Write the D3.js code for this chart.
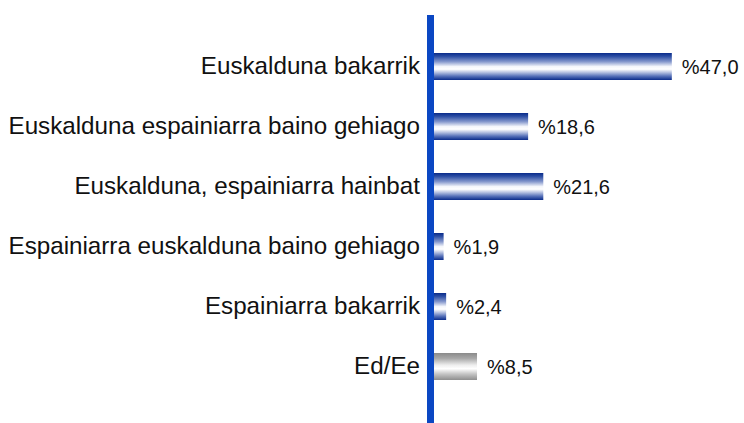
<!DOCTYPE html>
<html>
<head>
<meta charset="utf-8">
<script src="https://cdn.jsdelivr.net/npm/d3@7"></script>
<style>
  html, body { margin: 0; padding: 0; background: #fff; }
  svg { display: block; }
  text { font-family: "Liberation Sans", Arial, sans-serif; fill: #111; }
</style>
</head>
<body>
<svg id="chart" width="744" height="423"></svg>
<script>
// Identity survey answers (percent)
const categories = [
  "Euskalduna bakarrik",
  "Euskalduna espainiarra baino gehiago",
  "Euskalduna, espainiarra hainbat",
  "Espainiarra euskalduna baino gehiago",
  "Espainiarra bakarrik",
  "Ed/Ee"
];
const values = [47.0, 18.6, 21.6, 1.9, 2.4, 8.5];
const valueLabels = ["%47,0", "%18,6", "%21,6", "%1,9", "%2,4", "%8,5"];
const greyCategories = ["Ed/Ee"];

const svg = d3.select("#chart");
const W = 744, H = 423;

const x0 = 434;
const x = d3.scaleLinear().domain([0, 50]).range([x0, x0 + 253]);
const y = d3.scaleBand()
  .domain(categories)
  .range([36.5, 396.5])
  .paddingInner(0.55)
  .paddingOuter(0.275);

// Cylinder-like gradients for the bars
const defs = svg.append("defs");
const blue = defs.append("linearGradient")
  .attr("id", "gBlue").attr("x1", 0).attr("y1", 0).attr("x2", 0).attr("y2", 1);
[
  [0, "#0a2b8a"], [0.12, "#2a4ca3"], [0.32, "#8497cc"], [0.5, "#f4f6fb"],
  [0.6, "#ffffff"], [0.72, "#b4c0e0"], [0.86, "#5570b8"], [1, "#0a2b8a"]
].forEach(([o, c]) => blue.append("stop").attr("offset", o).attr("stop-color", c));

const grey = defs.append("linearGradient")
  .attr("id", "gGrey").attr("x1", 0).attr("y1", 0).attr("x2", 0).attr("y2", 1);
[
  [0, "#8a8a8a"], [0.2, "#a8a8a8"], [0.45, "#eeeeee"], [0.58, "#ffffff"],
  [0.78, "#c4c4c4"], [1, "#8e8e8e"]
].forEach(([o, c]) => grey.append("stop").attr("offset", o).attr("stop-color", c));

const rows = categories.map((c, i) => ({ cat: c, v: values[i], label: valueLabels[i] }));

// Bars
svg.append("g").selectAll("rect")
  .data(rows)
  .join("rect")
  .attr("x", x(0))
  .attr("y", d => y(d.cat))
  .attr("width", d => x(d.v) - x(0))
  .attr("height", y.bandwidth())
  .attr("fill", d => greyCategories.includes(d.cat) ? "url(#gGrey)" : "url(#gBlue)");

// Value labels
svg.append("g").selectAll("text")
  .data(rows)
  .join("text")
  .attr("x", d => x(d.v) + 10)
  .attr("y", d => y(d.cat) + y.bandwidth() / 2)
  .attr("dy", "0.36em")
  .attr("font-size", 20)
  .text(d => d.label);

// Category axis (labels on the left, thick blue spine)
const axis = d3.axisLeft(y).tickSize(0).tickPadding(14);
const gAxis = svg.append("g")
  .attr("transform", `translate(${x0},0)`)
  .call(axis);
gAxis.select(".domain").remove();
gAxis.selectAll(".tick text")
  .attr("font-size", 24.2)
  .attr("font-family", "Liberation Sans, Arial, sans-serif")
  .attr("fill", "#111");

svg.append("rect")
  .attr("x", x0 - 7)
  .attr("y", 15)
  .attr("width", 7)
  .attr("height", H - 15)
  .attr("fill", "#0b47c3");
</script>
</body>
</html>
